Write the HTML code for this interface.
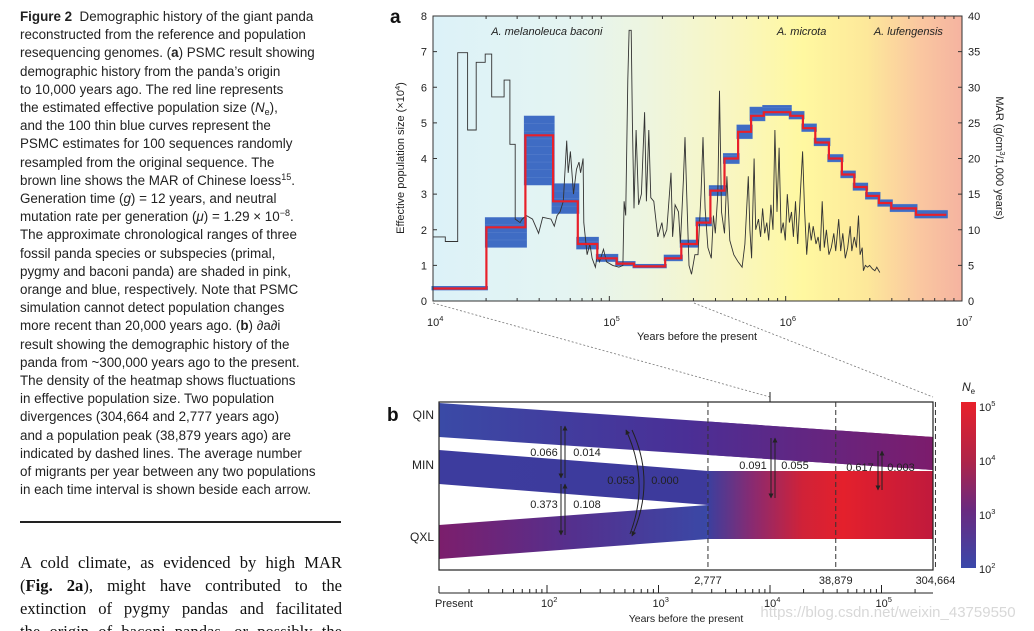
<!DOCTYPE html>
<html><head><meta charset="utf-8">
<style>
html,body{margin:0;padding:0;background:#fff;}
#root{position:relative;width:1034px;height:631px;overflow:hidden;background:#fff;}
.cap{position:absolute;left:20px;font-family:"Liberation Sans",sans-serif;font-size:13.4px;color:#222;white-space:pre;line-height:18px;height:18px;}
.cap sup,.cap sub{font-size:9px;line-height:0;position:relative;vertical-align:baseline;}
.cap sup{top:-5px;}
.cap sub{top:3px;}
.body{position:absolute;left:20px;width:322px;font-family:"Liberation Serif",serif;font-size:16.6px;color:#111;text-align:justify;text-align-last:justify;white-space:nowrap;line-height:22px;}
svg text{font-family:"Liberation Sans",sans-serif;}
</style></head>
<body>
<div id="root">
<div id="caption"></div>
<div style="position:absolute;left:20px;top:521px;width:321px;height:1.5px;background:#222"></div>
<div class="body" style="top:552px">A cold climate, as evidenced by high MAR</div>
<div class="body" style="top:575px">(<b>Fig. 2a</b>), might have contributed to the</div>
<div class="body" style="top:598px">extinction of pygmy pandas and facilitated</div>
<div class="body" style="top:621px">the origin of baconi pandas, or possibly the</div>
<svg id="fig" width="1034" height="631" style="position:absolute;left:0;top:0"></svg>
</div>
<script>
// ---------- Panel a data ----------
const stepLogYears=[4.0,4.303,4.524,4.681,4.821,4.932,5.042,5.140,5.317,5.408,5.497,5.573,5.653,5.730,5.804,5.876,6.026,6.098,6.168,6.245,6.319,6.389,6.459,6.529,6.599,6.739,6.911];
const neValues=[0.35,2.07,4.65,2.8,1.6,1.2,1.05,0.97,1.2,1.6,2.2,3.1,4.0,4.75,5.2,5.3,5.2,4.85,4.45,4.0,3.55,3.2,2.95,2.75,2.6,2.42];
const neLow=[0.3,1.5,3.25,2.45,1.45,1.1,0.98,0.92,1.12,1.5,2.1,2.95,3.85,4.55,5.05,5.2,5.1,4.75,4.35,3.9,3.45,3.1,2.85,2.65,2.5,2.32];
const neHigh=[0.42,2.35,5.2,3.3,1.8,1.32,1.12,1.04,1.3,1.72,2.35,3.25,4.15,4.95,5.45,5.5,5.33,4.98,4.58,4.12,3.66,3.32,3.06,2.85,2.72,2.55];
const marLogYears=[4.000,4.070,4.070,4.140,4.140,4.196,4.196,4.245,4.245,4.296,4.296,4.333,4.333,4.403,4.403,4.436,4.436,4.466,4.466,4.494,4.506,4.529,4.564,4.599,4.622,4.669,4.688,4.704,4.720,4.739,4.758,4.767,4.779,4.797,4.814,4.828,4.837,4.851,4.855,4.874,4.890,4.902,4.921,4.932,4.944,4.967,4.984,5.019,5.054,5.077,5.084,5.093,5.105,5.112,5.124,5.131,5.140,5.152,5.166,5.182,5.200,5.210,5.224,5.235,5.252,5.275,5.298,5.310,5.326,5.350,5.359,5.373,5.392,5.403,5.420,5.429,5.438,5.452,5.466,5.485,5.503,5.520,5.531,5.543,5.559,5.578,5.590,5.601,5.615,5.625,5.636,5.653,5.667,5.683,5.706,5.730,5.753,5.769,5.788,5.797,5.807,5.821,5.830,5.846,5.858,5.869,5.881,5.893,5.904,5.916,5.928,5.939,5.951,5.963,5.974,5.986,5.998,6.009,6.021,6.033,6.044,6.056,6.068,6.084,6.096,6.107,6.119,6.133,6.145,6.156,6.172,6.184,6.196,6.207,6.219,6.231,6.245,6.259,6.273,6.284,6.301,6.312,6.324,6.338,6.352,6.366,6.375,6.389,6.401,6.413,6.422,6.434,6.441,6.452,6.464,6.476,6.492,6.506,6.517,6.534];
const marValues=[9,9,8.35,8.35,34.85,34.85,24,24,33.5,33.5,34.65,34.65,28.65,28.65,31,31,22,22,11.5,11,11.5,12,11.5,9.5,11.75,11.5,10.5,12,12.5,14,22.5,18,21,15,18.5,19.5,18,20,11,6.5,8,6,4.75,6.5,5.5,7.25,5.5,5,4.75,5,14,12,31,38,38,25,13,24,13.5,15,26.5,14,24,14.5,14,9,11,9,10,18,9,13.5,12.5,8,17,23,15.5,5,3.75,6.5,6.5,15,23,13,7.5,6,12,9.5,15,29.5,12.5,9.5,17.5,8.5,6.5,5.5,4.75,8,17.5,10,6,20,10,11.5,9,13,9.5,11,8.5,13.5,10,24,12.5,21.5,9.5,11,8.5,15,11,12.5,9,14,8,15.5,21,13,6.5,11,8.5,10.5,8,9,7,14,7.5,10,6.5,7.5,9.5,7,11.5,7,9.5,6,7.5,10.5,7,9,7.5,12,6.5,7.5,4.25,5,4.75,5,4.5,4.25,4.75,4];
const leftTicks=[0,1,2,3,4,5,6,7,8];
const rightTicks=[0,5,10,15,20,25,30,35,40];
const xDecades=[4,5,6,7];
const speciesLabels=["A. melanoleuca baconi","A. microta","A. lufengensis"];
const speciesLogPos=[4.33,5.95,6.5];
// ---------- Panel b data ----------
const bDivergences=[2777,38879,304664];
const bDivLabels=["2,777","38,879","304,664"];
const bDecades=[2,3,4,5];
const migLabels=["0.066","0.014","0.373","0.108","0.053","0.000","0.091","0.055","0.617","0.003"];
const cbarLabels=[5,4,3,2];
</script>
<script>
const NS="http://www.w3.org/2000/svg";
const svg=document.getElementById('fig');
function mk(tag,attrs,parent){const e=document.createElementNS(NS,tag);for(const k in attrs)e.setAttribute(k,attrs[k]);(parent||svg).appendChild(e);return e;}
function txt(s,x,y,attrs,parent){const t=mk('text',Object.assign({x:x,y:y,'font-size':11,fill:'#222'},attrs||{}),parent);t.innerHTML=s;return t;}

// caption
const capLines=["<b>Figure 2</b>  Demographic history of the giant panda","reconstructed from the reference and population","resequencing genomes. (<b>a</b>) PSMC result showing","demographic history from the panda’s origin","to 10,000 years ago. The red line represents","the estimated effective population size (<i>N</i><sub>e</sub>),","and the 100 thin blue curves represent the","PSMC estimates for 100 sequences randomly","resampled from the original sequence. The","brown line shows the MAR of Chinese loess<sup>15</sup>.","Generation time (<i>g</i>) = 12 years, and neutral","mutation rate per generation (<i>μ</i>) = 1.29 × 10<sup>−8</sup>.","The approximate chronological ranges of three","fossil panda species or subspecies (primal,","pygmy and baconi panda) are shaded in pink,","orange and blue, respectively. Note that PSMC","simulation cannot detect population changes","more recent than 20,000 years ago. (<b>b</b>) ∂a∂i","result showing the demographic history of the","panda from ~300,000 years ago to the present.","The density of the heatmap shows fluctuations","in effective population size. Two population","divergences (304,664 and 2,777 years ago)","and a population peak (38,879 years ago) are","indicated by dashed lines. The average number","of migrants per year between any two populations","in each time interval is shown beside each arrow."];
const cap=document.getElementById('caption');
capLines.forEach((l,i)=>{const d=document.createElement('div');d.className='cap';d.style.top=(8+i*18.2)+'px';d.innerHTML=l;


cap.appendChild(d);});

// ---------- Panel a ----------
const AX0=433,AX1=962,AY0=301,AY1=16;
const xa=l=>AX0+(l-4)/3*(AX1-AX0);
const yL=v=>AY0-v/8*(AY0-AY1);
const yR=v=>AY0-v/40*(AY0-AY1);
const defs=mk('defs',{});
const g1=mk('linearGradient',{id:'bgA',x1:0,y1:0,x2:1,y2:0},defs);
[[0,'#dcf2f8'],[0.25,'#e4f4f2'],[0.4,'#edf5e0'],[0.55,'#f8f6c4'],[0.7,'#fff8a0'],[0.82,'#fde89a'],[0.92,'#fac7a0'],[1,'#f5b3a0']].forEach(s=>mk('stop',{offset:s[0],'stop-color':s[1]},g1));
const pa=mk('g',{});


const bg=mk('rect',{x:AX0,y:AY1,width:AX1-AX0,height:AY0-AY1,fill:'url(#bgA)'},pa);


speciesLabels.forEach((s,i)=>{const t=txt(s,xa(speciesLogPos[i]),35,{'font-size':11,'font-style':'italic'},pa);

});
// bootstrap band
const band=mk('g',{},pa);


neValues.forEach((v,i)=>{
 const x0=xa(stepLogYears[i]),x1=xa(stepLogYears[i+1]);
 const r=mk('rect',{x:x0-1.5,y:yL(neHigh[i]),width:x1-x0+3,height:yL(neLow[i])-yL(neHigh[i]),fill:'#3f6cc4'},band);
 
 
 const n=Math.max(2,Math.round((neHigh[i]-neLow[i])*14));
 for(let k=0;k<=n;k+=3){const yy=yL(neLow[i]+(neHigh[i]-neLow[i])*k/n);mk('line',{x1:x0-1.5,x2:x1+1.5,y1:yy,y2:yy,stroke:'#7fa2dc','stroke-width':0.5,opacity:0.4},band);}
});
// MAR line
let d='';
marLogYears.forEach((l,i)=>{const x=xa(l),y=yR(marValues[i]);d+=(i?'L':'M')+x.toFixed(1)+','+y.toFixed(1);});
const mar=mk('path',{d:d,fill:'none',stroke:'#333','stroke-width':0.9},pa);


// red step
d='';
neValues.forEach((v,i)=>{const x0=xa(stepLogYears[i]),x1=xa(stepLogYears[i+1]),y=yL(v);d+=(i?'L':'M')+x0.toFixed(1)+','+y.toFixed(1)+'L'+x1.toFixed(1)+','+y.toFixed(1);});
const red=mk('path',{d:d,fill:'none',stroke:'#e8202a','stroke-width':2.2},pa);


// frame
mk('rect',{x:AX0,y:AY1,width:AX1-AX0,height:AY0-AY1,fill:'none',stroke:'#333','stroke-width':1},pa);
// ticks
leftTicks.forEach(v=>{mk('line',{x1:AX0,x2:AX0+4,y1:yL(v),y2:yL(v),stroke:'#333'},pa);const t=txt(v,AX0-6,yL(v)+4,{'text-anchor':'end'},pa);

});
rightTicks.forEach(v=>{mk('line',{x1:AX1,x2:AX1-4,y1:yR(v),y2:yR(v),stroke:'#333'},pa);const t=txt(v,AX1+6,yR(v)+4,{},pa);

});
xDecades.forEach((dd,i)=>{
 const t=txt('10<tspan dy="-5" font-size="7.5">'+dd+'</tspan>',xa(dd)-6,326,{},pa);
 
 
 if(i<3)for(let m=2;m<=9;m++){const x=xa(dd+Math.log10(m));mk('line',{x1:x,x2:x,y1:AY0,y2:AY0-3,stroke:'#333'},pa);mk('line',{x1:x,x2:x,y1:AY1,y2:AY1+3,stroke:'#333'},pa);}
 mk('line',{x1:xa(dd),x2:xa(dd),y1:AY0,y2:AY0-5,stroke:'#333'},pa);
});
let t=txt('Years before the present',697,340,{'text-anchor':'middle'},pa);


t=txt('Effective population size (×10<tspan dy="-4" font-size="7.5">4</tspan><tspan dy="4">)</tspan>',0,0,{'text-anchor':'middle',transform:'translate(404,158) rotate(-90)'},pa);


t=txt('MAR (g/cm<tspan dy="-4" font-size="7.5">3</tspan><tspan dy="4">/1,000 years)</tspan>',0,0,{'text-anchor':'middle',transform:'translate(996,158) rotate(90)'},pa);


t=txt('a',390,23,{'font-size':19,'font-weight':'bold',fill:'#111'},pa);


// zoom dotted lines
mk('line',{x1:AX0,y1:AY0+2,x2:770,y2:397,stroke:'#777','stroke-dasharray':'2,2','stroke-width':0.8});
mk('line',{x1:xa(5.48),y1:AY0+2,x2:933,y2:397,stroke:'#777','stroke-dasharray':'2,2','stroke-width':0.8});

// ---------- Panel b ----------
const BX0=439,BX1=933,BY0=402,BY1=570;
const xb=y=>547+(Math.log10(y)-2)*111.5;
const pb=mk('g',{});


function grad(id,x1,x2,stops){const g=mk('linearGradient',{id:id,gradientUnits:'userSpaceOnUse',x1:x1,y1:0,x2:x2,y2:0},defs);stops.forEach(s=>mk('stop',{offset:s[0],'stop-color':s[1]},g));}
const xd1=xb(bDivergences[0]),xd2=xb(bDivergences[1]),xd3=xb(bDivergences[2]);
grad('gQIN',BX0,BX1,[[0,'#3a4aa6'],[0.5,'#4a2f96'],[1,'#7c1c6c']]);
grad('gMIN',BX0,xd1,[[0,'#3d3c9e'],[1,'#3d3a9c']]);
grad('gQXL',BX0,xd1,[[0,'#7c1e6c'],[0.5,'#54308e'],[1,'#3a48a6']]);
grad('gMRG',xd1,BX1,[[0,'#3c3f9e'],[0.2,'#8a2a70'],[0.42,'#d02238'],[0.6,'#e4202c'],[1,'#c01a3c']]);
const yq=(x,a,b)=>a+(b-a)*(x-BX0)/(BX1-BX0);
function poly(pts,fill,name){const p=mk('polygon',{points:pts.map(p=>p.join(',')).join(' '),fill:fill},pb);

}
poly([[BX0,403],[BX1,437],[BX1,470],[BX0,437]],'url(#gQIN)','qin-population-band');
poly([[BX0,450],[xd1,471],[xd1,505],[BX0,484]],'url(#gMIN)','min-population-band');
poly([[BX0,525],[xd1,505],[xd1,539],[BX0,559]],'url(#gQXL)','qxl-population-band');
poly([[xd1,471],[BX1,471],[BX1,539],[xd1,539]],'url(#gMRG)','merged-ancestral-band');
poly([[xd1,yq(xd1,403,437)],[BX1,437],[BX1,yq(BX1,437,470)-0],[xd1,yq(xd1,437,470)]],'url(#gQIN)','qin-band-ancient');
mk('rect',{x:BX0,y:BY0,width:BX1-BX0,height:BY1-BY0,fill:'none',stroke:'#222','stroke-width':1.2},pb);
bDivergences.forEach((v,i)=>{const x=xb(v);mk('line',{x1:x,x2:x,y1:BY0,y2:BY1,stroke:'#333','stroke-dasharray':'5,3'},pb);
 const l=txt(bDivLabels[i],x,584,{'text-anchor':'middle'},pb);
 
 });
mk('line',{x1:770,x2:770,y1:392,y2:BY0,stroke:'#222'},pb);
[['QIN',419],['MIN',469],['QXL',541]].forEach(a=>{const l=txt(a[0],434,a[1],{'text-anchor':'end','font-size':12},pb);

});
// arrows
const mD=mk('marker',{id:'ah',viewBox:'0 0 10 10',refX:9,refY:5,markerWidth:5,markerHeight:5,orient:'auto-start-reverse'},defs);
mk('path',{d:'M0,0L10,5L0,10z',fill:'#222'},mD);
function dbl(x,ya,yb2,name){const g=mk('g',{},pb);
 
 
 mk('line',{x1:x-2,x2:x-2,y1:ya,y2:yb2,stroke:'#222','stroke-width':1,'marker-end':'url(#ah)'},g);
 mk('line',{x1:x+2,x2:x+2,y1:yb2,y2:ya,stroke:'#222','stroke-width':1,'marker-end':'url(#ah)'},g);}
dbl(563,426,478,'migration-arrow-qin-min');
dbl(563,484,535,'migration-arrow-min-qxl');
dbl(773,438,498,'migration-arrow-qin-anc');
dbl(880,451,490,'migration-arrow-qin-anc-2');
const cg=mk('g',{},pb);


mk('path',{d:'M632,430 Q656,482 632,536',fill:'none',stroke:'#222','marker-end':'url(#ah)'},cg);
mk('path',{d:'M630,534 Q650,482 626,430',fill:'none',stroke:'#222','marker-end':'url(#ah)'},cg);
const mpos=[[544,456],[587,456],[544,508],[587,508],[621,484],[665,484],[753,469],[795,469],[860,471],[901,471]];
migLabels.forEach((s,i)=>{const l=txt(s,mpos[i][0],mpos[i][1],{'text-anchor':'middle','font-size':11},pb);

});
// bottom axis
mk('line',{x1:BX0,x2:BX1,y1:593,y2:593,stroke:'#222'},pb);
mk('line',{x1:BX0,x2:BX0,y1:593,y2:586,stroke:'#222'},pb);
for(let dd=1;dd<=5;dd++)for(let m=1;m<=9;m++){const yv=m*Math.pow(10,dd);const x=xb(yv);if(x<BX0+2||x>BX1+1)continue;mk('line',{x1:x,x2:x,y1:593,y2:m===1?585:589,stroke:'#222'},pb);}
t=txt('Present',454,607,{'text-anchor':'middle'},pb);


bDecades.forEach(dd=>{const l=txt('10<tspan dy="-5" font-size="7.5">'+dd+'</tspan>',xb(Math.pow(10,dd))-6,607,{},pb);

});
t=txt('Years before the present',686,622,{'text-anchor':'middle','font-size':10.5},pb);


t=txt('b',387,421,{'font-size':19,'font-weight':'bold',fill:'#111'},pb);


// colorbar
const cgd=mk('linearGradient',{id:'gCB',x1:0,y1:0,x2:0,y2:1},defs);
[[0,'#e8202a'],[0.35,'#b02448'],[0.65,'#6a2a80'],[1,'#3a48aa']].forEach(s=>mk('stop',{offset:s[0],'stop-color':s[1]},cgd));
const cb=mk('rect',{x:961,y:402,width:15,height:166,fill:'url(#gCB)'},pb);


cbarLabels.forEach((p,i)=>{const y=406+i*(162/3);const l=txt('10<tspan dy="-5" font-size="7.5">'+p+'</tspan>',979,y+5,{},pb);

});
t=txt('<tspan font-style="italic">N</tspan><tspan dy="3" font-size="8">e</tspan>',962,391,{'font-size':12},pb);


// watermark
t=txt('https://blog.csdn.net/weixin_43759550',888,617,{'text-anchor':'middle','font-size':15,fill:'#d8d8d8'});


</script>
</body></html>
